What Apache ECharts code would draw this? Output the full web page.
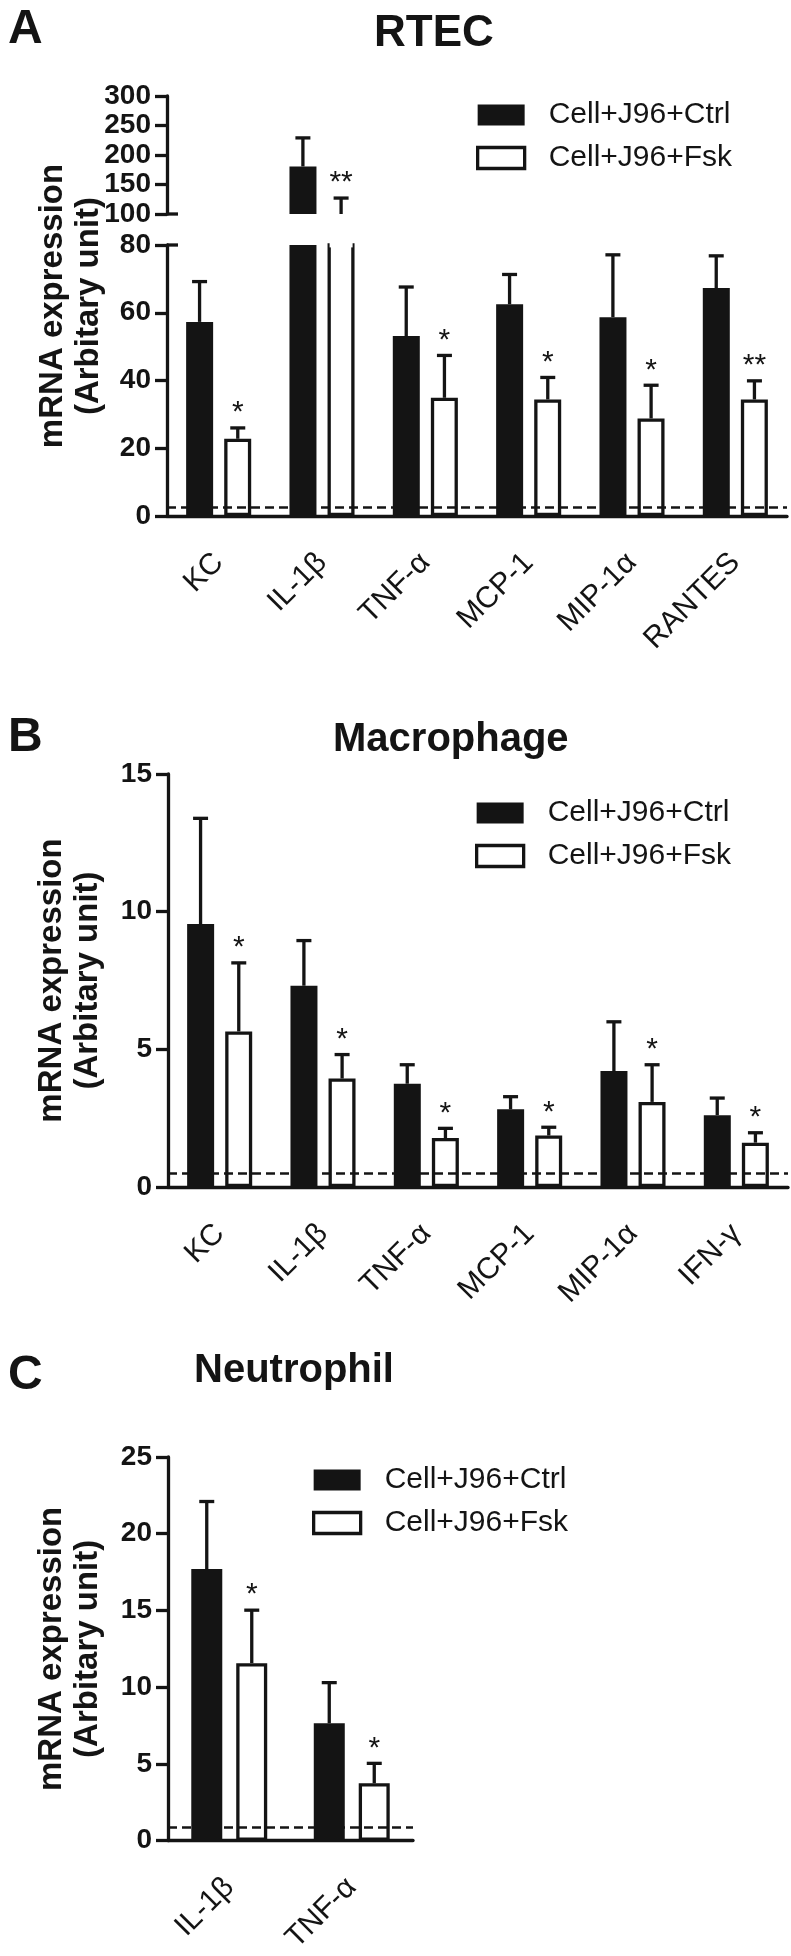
<!DOCTYPE html>
<html>
<head>
<meta charset="utf-8">
<title>mRNA expression</title>
<script src="https://cdn.jsdelivr.net/npm/echarts@6.0.0/dist/echarts.min.js"></script>
<style>
  html, body { margin: 0; padding: 0; background: #fff; }
  #chart { width: 791px; height: 1956px; }
</style>
</head>
<body>
<div id="chart"></div>
<script>
// ---- data ----
const seriesNames = ['Cell+J96+Ctrl', 'Cell+J96+Fsk']

// A: RTEC (broken axis 0-80 / 100-300)
const catsA = ['KC', 'IL-1β', 'TNF-α', 'MCP-1', 'MIP-1α', 'RANTES']
const ctrlA = [57.3, 180.6, 53.1, 62.5, 58.7, 67.3]
const ctrlSemA = [11.9, 48.4, 14.5, 8.8, 18.4, 9.5]
const fskA = [22.8, 90, 34.9, 34.4, 28.8, 34.4]
const fskSemA = [3.2, 37, 12.5, 6.5, 9.8, 5.5]
const starsA = ['*', '**', '*', '*', '*', '**']
const baseA = 2.5

// B: Macrophage
const catsB = ['KC', 'IL-1β', 'TNF-α', 'MCP-1', 'MIP-1α', 'IFN-γ']
const ctrlB = [9.55, 7.31, 3.75, 2.82, 4.21, 2.61]
const ctrlSemB = [3.84, 1.64, 0.69, 0.46, 1.79, 0.62]
const fskB = [5.65, 3.94, 1.78, 1.87, 3.09, 1.61]
const fskSemB = [2.49, 0.87, 0.35, 0.30, 1.35, 0.36]
const starsB = ['*', '*', '*', '*', '*', '*']
const baseB = 0.5

// C: Neutrophil
const catsC = ['IL-1β', 'TNF-α']
const ctrlC = [17.7, 7.65]
const ctrlSemC = [4.4, 2.65]
const fskC = [11.57, 3.74]
const fskSemC = [3.45, 1.3]
const starsC = ['*', '*']
const baseC = 0.9

// ---- styling ----
const INK = '#141414'
const FONT = '"Liberation Sans", Arial, Helvetica, sans-serif'
const LW = 3.3
const yTitle = 'mRNA expression\n(Arbitary unit)'

function xAxisFor (gridIndex, cats, show) {
  return {
    type: 'category',
    gridIndex: gridIndex,
    data: cats,
    show: show,
    axisLine: { lineStyle: { color: INK, width: LW } },
    axisTick: { alignWithLabel: true, length: 12, lineStyle: { color: INK, width: LW } },
    axisLabel: { rotate: 45, interval: 0, margin: 42, fontSize: 30, fontFamily: FONT, color: INK }
  }
}

function yAxisFor (gridIndex, min, max, interval, name, nameGap) {
  return {
    type: 'value',
    gridIndex: gridIndex,
    min: min,
    max: max,
    interval: interval,
    name: name || '',
    nameLocation: 'middle',
    nameGap: nameGap || 0,
    nameTextStyle: { fontSize: 33, fontWeight: 'bold', fontFamily: FONT, color: INK, lineHeight: 36 },
    splitLine: { show: false },
    axisLine: { show: true, lineStyle: { color: INK, width: LW } },
    axisTick: { show: true, length: 12, lineStyle: { color: INK, width: LW } },
    axisLabel: { fontSize: 28, fontWeight: 'bold', fontFamily: FONT, color: INK, margin: 16 }
  }
}

function bars (xi, yi, ctrl, fsk, barW, gap) {
  return [{
    type: 'bar',
    name: seriesNames[0],
    xAxisIndex: xi,
    yAxisIndex: yi,
    data: ctrl,
    barWidth: barW,
    barGap: gap,
    itemStyle: { color: INK },
    z: 2
  }, {
    type: 'bar',
    name: seriesNames[1],
    xAxisIndex: xi,
    yAxisIndex: yi,
    data: fsk,
    barWidth: barW,
    barGap: gap,
    itemStyle: { color: '#fff', borderColor: INK, borderWidth: LW },
    z: 2
  }]
}

// upward error bar (+ optional significance stars) drawn through the axes;
// where an open bar runs past the top of a broken-axis segment its top edge is left open
function errSeries (xi, yi, means, sems, offset, stars, barW) {
  return {
    type: 'custom',
    xAxisIndex: xi,
    yAxisIndex: yi,
    silent: true,
    z: 6,
    data: means.map((v, i) => [i, v, v + sems[i]]),
    renderItem (params, api) {
      const cs = params.coordSys
      const p0 = api.coord([api.value(0), api.value(1)])
      const p1 = api.coord([api.value(0), api.value(2)])
      const x = p0[0] + offset
      const yMin = cs.y
      const yMax = cs.y + cs.height
      const y0 = Math.min(p0[1], yMax)
      const y1 = Math.max(p1[1], yMin)
      const children = []
      if (barW && p0[1] < yMin) {
        children.push({ type: 'line', shape: { x1: x - barW / 2 + 2, y1: yMin, x2: x + barW / 2 - 2, y2: yMin }, style: { stroke: '#fff', lineWidth: LW + 1.5 } })
      }
      if (y0 > y1) {
        children.push({ type: 'line', shape: { x1: x, y1: y0, x2: x, y2: y1 }, style: { stroke: INK, lineWidth: LW } })
      }
      if (p1[1] >= yMin && p1[1] <= yMax) {
        children.push({ type: 'line', shape: { x1: x - 7.5, y1: p1[1], x2: x + 7.5, y2: p1[1] }, style: { stroke: INK, lineWidth: LW } })
        if (stars) {
          children.push({
            type: 'text',
            x: x,
            y: p1[1] - 15,
            style: { text: stars[params.dataIndex], align: 'center', verticalAlign: 'middle', font: '30px ' + FONT, fill: INK }
          })
        }
      }
      return { type: 'group', children: children }
    }
  }
}

function baseLine (xi, yi, val) {
  return {
    type: 'line',
    xAxisIndex: xi,
    yAxisIndex: yi,
    data: [],
    silent: true,
    z: 8,
    markLine: {
      silent: true,
      symbol: 'none',
      label: { show: false },
      lineStyle: { type: [9, 5], color: INK, width: 2.5 },
      data: [{ yAxis: val }]
    }
  }
}

function legendAt (left, top) {
  return {
    left: left,
    top: top,
    padding: 0,
    orient: 'vertical',
    icon: 'rect',
    itemWidth: 47,
    itemHeight: 21,
    itemGap: 13,
    selectedMode: false,
    textStyle: { fontSize: 30, fontFamily: FONT, color: INK, padding: [0, 0, 0, 19] },
    data: [
      { name: seriesNames[0], itemStyle: { color: INK, borderWidth: 0 } },
      { name: seriesNames[1], itemStyle: { color: '#fff', borderColor: INK, borderWidth: LW } }
    ]
  }
}

function heading (text, left, top, size) {
  return { text: text, left: left, top: top, padding: 0, textStyle: { fontSize: size, fontWeight: 'bold', fontFamily: FONT, color: INK } }
}

const gridA = { low: { top: 245, h: 271 }, up: { top: 96, h: 118 } }

const option = {
  animation: false,
  backgroundColor: '#fff',
  title: [
    heading('A', 8, 6, 48), heading('RTEC', 374, 12, 44),
    heading('B', 8, 714, 48), heading('Macrophage', 333, 720, 40),
    heading('C', 8, 1352, 48), heading('Neutrophil', 194, 1351, 40)
  ],
  legend: [legendAt(476, 100), legendAt(475, 798), legendAt(312, 1465)],
  grid: [
    { left: 167, width: 620, top: gridA.low.top, height: gridA.low.h },
    { left: 167, width: 620, top: gridA.up.top, height: gridA.up.h },
    { left: 168, width: 620, top: 774, height: 413 },
    { left: 168, width: 245, top: 1457, height: 390 }
  ],
  xAxis: [
    xAxisFor(0, catsA, true),
    xAxisFor(1, catsA, false),
    xAxisFor(2, catsB, true),
    xAxisFor(3, catsC, true)
  ],
  yAxis: [
    yAxisFor(0, 0, 80, 20),
    yAxisFor(1, 100, 300, 50),
    yAxisFor(2, 0, 15, 5, yTitle, 62),
    yAxisFor(3, 0, 25, 5, yTitle, 62)
  ],
  graphic: [
    {
      type: 'text',
      x: 71,
      y: 306,
      rotation: Math.PI / 2,
      style: { text: yTitle, align: 'center', verticalAlign: 'middle', font: 'bold 33px ' + FONT, lineHeight: 36, fill: INK }
    },
    // axis break marks
    { type: 'line', shape: { x1: 167, y1: gridA.low.top, x2: 178, y2: gridA.low.top }, style: { stroke: INK, lineWidth: LW } },
    { type: 'line', shape: { x1: 167, y1: gridA.up.top + gridA.up.h, x2: 178, y2: gridA.up.top + gridA.up.h }, style: { stroke: INK, lineWidth: LW } }
  ],
  series: [
    ...bars(0, 0, ctrlA, fskA, 27, '41%'),
    ...bars(1, 1, ctrlA, fskA, 27, '41%'),
    ...bars(2, 2, ctrlB, fskB, 27, '41%'),
    ...bars(3, 3, ctrlC, fskC, 31, '45%'),
    errSeries(0, 0, ctrlA, ctrlSemA, -19.1),
    errSeries(0, 0, fskA, fskSemA, 19.1, starsA, 27),
    errSeries(1, 1, ctrlA, ctrlSemA, -19.1),
    errSeries(1, 1, fskA, fskSemA, 19.1, starsA),
    errSeries(2, 2, ctrlB, ctrlSemB, -19.1),
    errSeries(2, 2, fskB, fskSemB, 19.1, starsB),
    errSeries(3, 3, ctrlC, ctrlSemC, -22.5),
    errSeries(3, 3, fskC, fskSemC, 22.5, starsC),
    baseLine(0, 0, baseA),
    baseLine(2, 2, baseB),
    baseLine(3, 3, baseC)
  ]
}

const chart = echarts.init(document.getElementById('chart'))
chart.setOption(option)
</script>
</body>
</html>
